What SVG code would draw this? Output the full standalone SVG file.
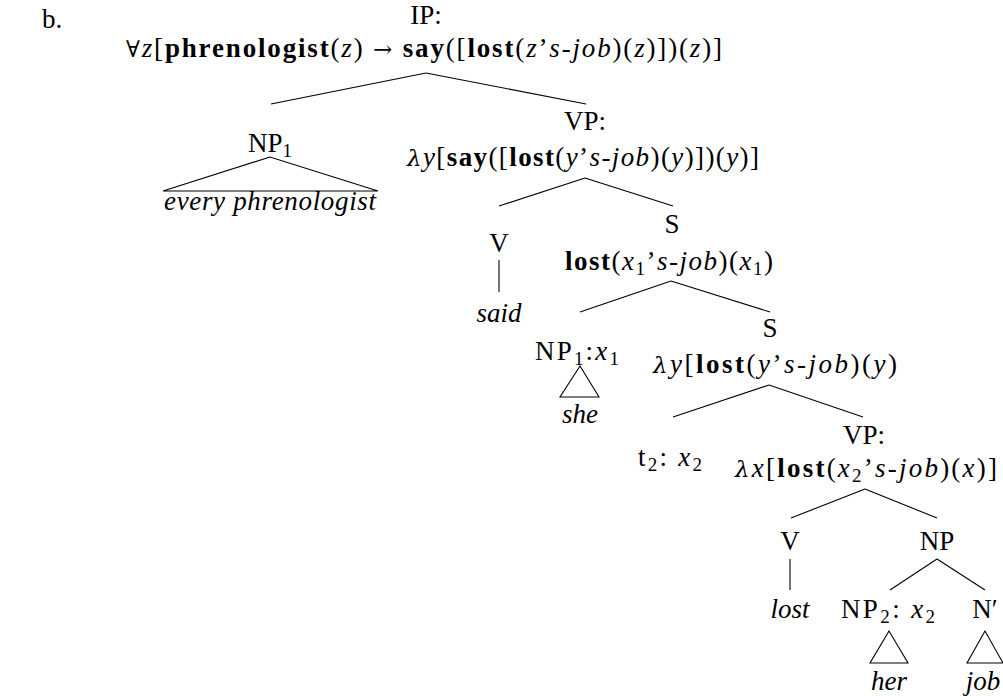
<svg xmlns="http://www.w3.org/2000/svg" width="1003" height="696" viewBox="0 0 1003 696">
<style>
text{font-family:"Liberation Serif","Times New Roman",serif;font-size:27px;fill:#000}
.b{font-weight:bold}
.i{font-style:italic}
.s{font-size:19px}
.m{text-anchor:middle}
.y{font-family:"DejaVu Serif",serif;font-size:23px}
line,polygon{stroke:#000;stroke-width:1.1;fill:none}
</style>
<rect width="1003" height="696" fill="#fff"/>
<text x="42" y="28">b.</text>
<g id="connectors">
<line x1="426" y1="73" x2="271" y2="104"/>
<line x1="426" y1="73" x2="586" y2="104"/>
<line x1="585" y1="178" x2="499" y2="206"/>
<line x1="585" y1="178" x2="673" y2="206"/>
<line x1="499" y1="260" x2="499" y2="292"/>
<line x1="671" y1="281" x2="580" y2="312"/>
<line x1="671" y1="281" x2="770" y2="312"/>
<line x1="769" y1="385" x2="673" y2="417"/>
<line x1="769" y1="385" x2="863" y2="417"/>
<line x1="865" y1="489" x2="791" y2="518"/>
<line x1="865" y1="489" x2="937" y2="518"/>
<line x1="790" y1="559" x2="790" y2="590"/>
<line x1="937" y1="559" x2="890" y2="590"/>
<line x1="937" y1="559" x2="985" y2="590"/>
</g>
<g id="n-ip">
<text class="m" x="426" y="24">IP:</text>
<text class="m" x="424" y="57" textLength="596" lengthAdjust="spacing"><tspan class="y">∀</tspan><tspan class="i">z</tspan>[<tspan class="b">phrenologist</tspan>(<tspan class="i">z</tspan>) <tspan class="y">→</tspan> <tspan class="b">say</tspan>([<tspan class="b">lost</tspan>(<tspan class="i">z</tspan>’<tspan class="i">s-job</tspan>)(<tspan class="i">z</tspan>)])(<tspan class="i">z</tspan>)]</text>
</g>
<g id="n-np1">
<text class="m" x="270" y="152">NP<tspan class="s" dy="5">1</tspan></text>
<polygon points="270,157 163,191 378,191"/>
<text class="m i" x="270" y="210" textLength="212" lengthAdjust="spacing">every phrenologist</text>
</g>
<g id="n-vp">
<text class="m" x="585" y="130">VP:</text>
<text class="m" x="583" y="166" textLength="352" lengthAdjust="spacing"><tspan class="y i">λ</tspan><tspan class="i">y</tspan>[<tspan class="b">say</tspan>([<tspan class="b">lost</tspan>(<tspan class="i">y</tspan>’<tspan class="i">s-job</tspan>)(<tspan class="i">y</tspan>)])(<tspan class="i">y</tspan>)]</text>
</g>
<g id="n-v1">
<text class="m" x="499" y="252">V</text>
<text class="m i" x="499" y="322">said</text>
</g>
<g id="n-s1">
<text class="m" x="672" y="233">S</text>
<text class="m" x="669" y="270" textLength="208" lengthAdjust="spacing"><tspan class="b">lost</tspan>(<tspan class="i">x</tspan><tspan class="s" dy="5">1</tspan><tspan dy="-5">’</tspan><tspan class="i">s-job</tspan>)(<tspan class="i">x</tspan><tspan class="s" dy="5">1</tspan><tspan dy="-5">)</tspan></text>
</g>
<g id="n-np1x">
<text class="m" x="577" y="360" textLength="84" lengthAdjust="spacing">NP<tspan class="s" dy="5">1</tspan><tspan dy="-5">:</tspan><tspan class="i">x</tspan><tspan class="s" dy="5">1</tspan></text>
<polygon points="580,366 560,397 599,397"/>
<text class="m i" x="580" y="423">she</text>
</g>
<g id="n-s2">
<text class="m" x="770" y="337">S</text>
<text class="m" x="775" y="373" textLength="244" lengthAdjust="spacing"><tspan class="y i">λ</tspan><tspan class="i">y</tspan>[<tspan class="b">lost</tspan>(<tspan class="i">y</tspan>’<tspan class="i">s-job</tspan>)(<tspan class="i">y</tspan>)</text>
</g>
<g id="n-t2">
<text class="m" x="670" y="466" textLength="64" lengthAdjust="spacing">t<tspan class="s" dy="5">2</tspan><tspan dy="-5">: </tspan><tspan class="i">x</tspan><tspan class="s" dy="5">2</tspan></text>
</g>
<g id="n-vp2">
<text class="m" x="864" y="444">VP:</text>
<text class="m" x="866" y="477" textLength="262" lengthAdjust="spacing"><tspan class="y i">λ</tspan><tspan class="i">x</tspan>[<tspan class="b">lost</tspan>(<tspan class="i">x</tspan><tspan class="s" dy="5">2</tspan><tspan dy="-5">’</tspan><tspan class="i">s-job</tspan>)(<tspan class="i">x</tspan>)]</text>
</g>
<g id="n-v2">
<text class="m" x="790" y="550">V</text>
<text class="m i" x="790" y="618">lost</text>
</g>
<g id="n-np">
<text class="m" x="937" y="550">NP</text>
</g>
<g id="n-np2">
<text class="m" x="888" y="618" textLength="94" lengthAdjust="spacing">NP<tspan class="s" dy="5">2</tspan><tspan dy="-5">: </tspan><tspan class="i">x</tspan><tspan class="s" dy="5">2</tspan></text>
<polygon points="889,631 870,663 908,663"/>
<text class="m i" x="889" y="690">her</text>
</g>
<g id="n-nbar">
<text class="m" x="985" y="618">N′</text>
<polygon points="985,631 967,663 1003,663"/>
<text class="m i" x="983" y="690">job</text>
</g>
</svg>
